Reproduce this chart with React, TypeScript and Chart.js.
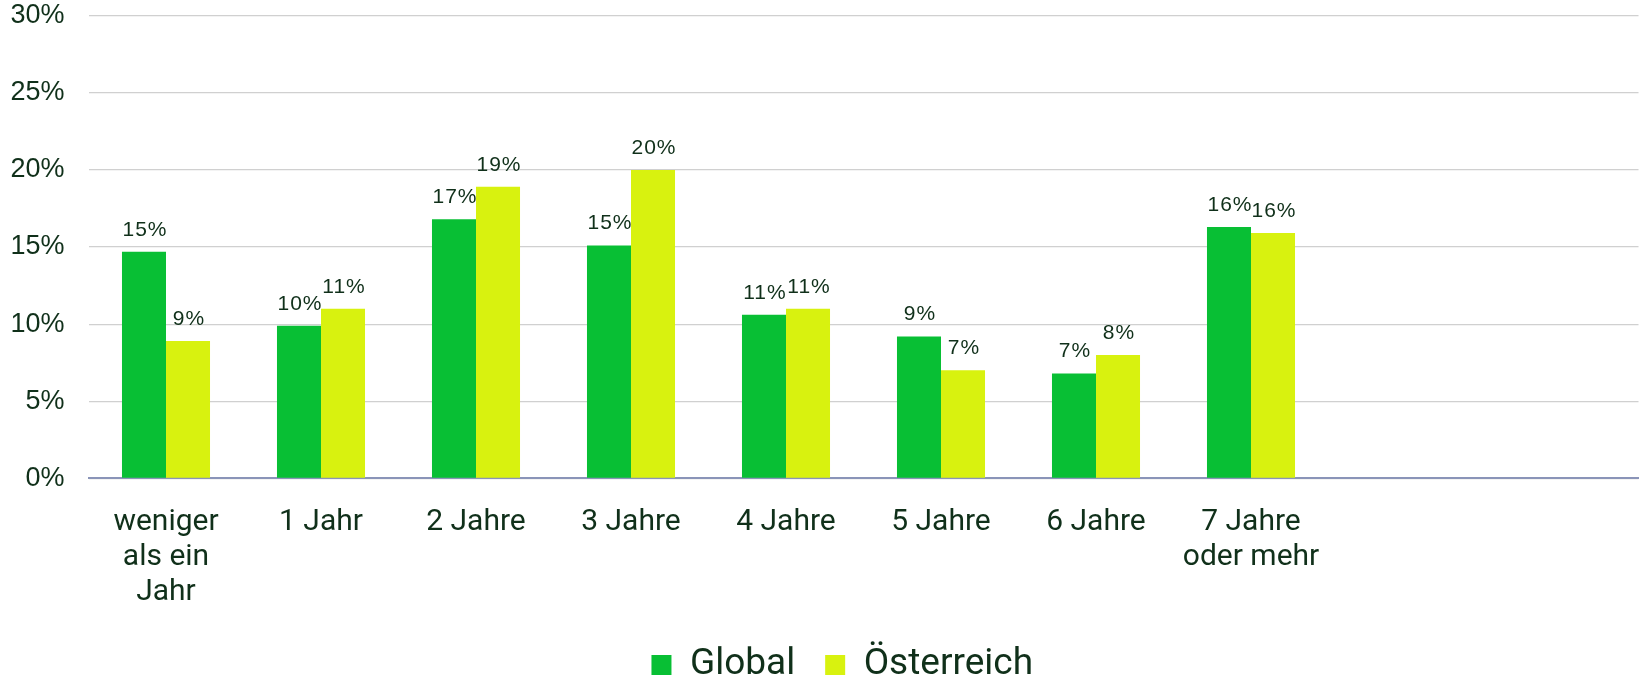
import React, { useEffect, useRef } from "react";
import { Chart, registerables } from "chart.js";

Chart.register(...registerables);

const categories: (string | string[])[] = [
  ["weniger", "als ein", "Jahr"],
  "1 Jahr",
  "2 Jahre",
  "3 Jahre",
  "4 Jahre",
  "5 Jahre",
  "6 Jahre",
  ["7 Jahre", "oder mehr"],
  "",
  "",
];
const globalValues = [14.7, 9.9, 16.8, 15.1, 10.6, 9.2, 6.8, 16.3, null, null];
const austriaValues = [8.9, 11.0, 18.9, 20.0, 11.0, 7.0, 8.0, 15.9, null, null];
const seriesNames = ["Global", "Österreich"];
const yMin = 0;
const yMax = 30;
const yStep = 5;

const TEXT = "#10301a";
const GREEN = "#08bf34";
const LIME = "#d8f20f";

const valueLabels = {
  id: "valueLabels",
  afterDatasetsDraw(chart: any) {
    const ctx = chart.ctx;
    ctx.save();
    ctx.font = '21px "Liberation Sans", Arial, sans-serif';
    try {
      (ctx as any).letterSpacing = "1px";
    } catch (e) {}
    ctx.fillStyle = TEXT;
    ctx.textAlign = "center";
    ctx.textBaseline = "alphabetic";
    chart.data.datasets.forEach((ds: any, i: number) => {
      const meta = chart.getDatasetMeta(i);
      meta.data.forEach((bar: any, j: number) => {
        const v = ds.data[j];
        if (v == null) return;
        ctx.fillText(Math.round(v) + "%", bar.x + 1, bar.y - 16);
      });
    });
    ctx.restore();
  },
};

const legendShift = {
  id: "legendShift",
  afterLayout(chart: any) {
    const lg = chart.legend;
    if (!lg) return;
    const dx = 23;
    const dy = -12;
    lg.left += dx;
    lg.right += dx;
    lg.top += dy;
    lg.bottom += dy;
  },
};

export default function App() {
  const ref = useRef<HTMLCanvasElement | null>(null);
  useEffect(() => {
    if (!ref.current) return;
    const chart = new Chart(ref.current, {
      type: "bar",
      data: {
        labels: categories,
        datasets: [
          {
            label: seriesNames[0],
            data: globalValues,
            backgroundColor: GREEN,
            categoryPercentage: 0.568,
            barPercentage: 1,
          },
          {
            label: seriesNames[1],
            data: austriaValues,
            backgroundColor: LIME,
            categoryPercentage: 0.568,
            barPercentage: 1,
          },
        ],
      },
      options: {
        animation: false,
        responsive: false,
        layout: { padding: { top: 15.7, right: 1.5, bottom: -27.5, left: 0 } },
        plugins: {
          tooltip: { enabled: false },
          legend: {
            position: "bottom",
            labels: {
              font: { family: "Roboto", size: 37 },
              color: TEXT,
              boxWidth: 20,
              boxHeight: 20,
              padding: 30,
            },
          },
        },
        scales: {
          x: {
            grid: { display: false },
            border: { color: "#8a94b8", width: 2 },
            ticks: {
              font: { family: "Roboto", size: 30, lineHeight: 1.18 },
              color: TEXT,
              padding: 18,
              maxRotation: 0,
              autoSkip: false,
            },
          },
          y: {
            min: yMin,
            max: yMax,
            afterFit(scale: any) {
              scale.width = 88.5;
              scale.paddingTop = 0;
              scale.paddingBottom = 0;
            },
            ticks: {
              stepSize: yStep,
              callback: (v: any) => v + "%",
              font: { family: "Liberation Sans", size: 27 },
              color: TEXT,
              padding: 24,
            },
            grid: { color: "#d0d0d0", drawTicks: false, lineWidth: 1.2 },
            border: { display: false },
          },
        },
      },
      plugins: [valueLabels, legendShift],
    });
    return () => chart.destroy();
  }, []);
  return (
    <div
      style={{
        position: "absolute",
        left: 0,
        top: 0,
        width: 1640,
        height: 678,
        overflow: "hidden",
        background: "#fff",
      }}
    >
      <canvas ref={ref} width={1640} height={678} style={{ display: "block" }} />
    </div>
  );
}
